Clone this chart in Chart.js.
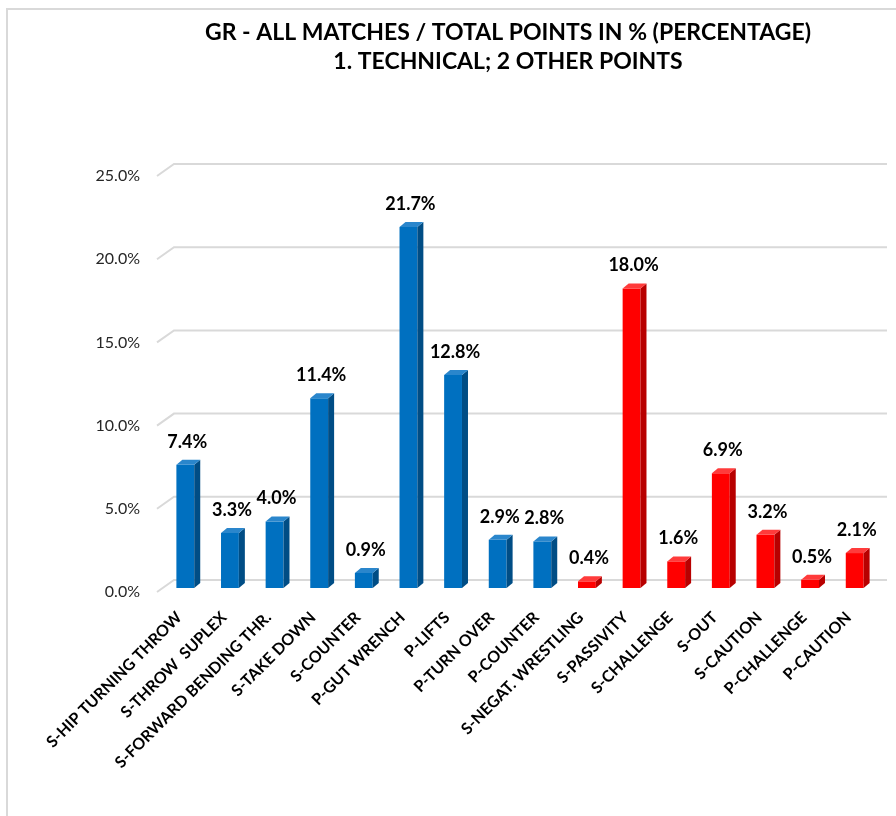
<!DOCTYPE html>
<html>
<head>
<meta charset="utf-8">
<script src="https://cdn.jsdelivr.net/npm/chart.js@4.4.0/dist/chart.umd.min.js"></script>
<style>
  body { margin: 0; background: #fff; }
  #frame { position: absolute; left: 6px; top: 8px; width: 1000px; height: 1000px; border: 2px solid #d9d9d9; }
  #wrap { position: absolute; left: 0; top: 0; width: 896px; height: 816px; }
</style>
</head>
<body>
<div id="frame"></div>
<div id="wrap"><canvas id="pointsChart" width="896" height="816"></canvas></div>
<script>
const titleLines = ['GR - ALL MATCHES / TOTAL POINTS IN % (PERCENTAGE)', '1. TECHNICAL; 2 OTHER POINTS'];

const categories = [
  'S-HIP TURNING THROW', 'S-THROW  SUPLEX', 'S-FORWARD BENDING THR.', 'S-TAKE DOWN',
  'S-COUNTER', 'P-GUT WRENCH', 'P-LIFTS', 'P-TURN OVER', 'P-COUNTER',
  'S-NEGAT. WRESTLING', 'S-PASSIVITY', 'S-CHALLENGE', 'S-OUT', 'S-CAUTION',
  'P-CHALLENGE', 'P-CAUTION'
];
const percentValues = [7.4, 3.3, 4.0, 11.4, 0.9, 21.7, 12.8, 2.9, 2.8, 0.4, 18.0, 1.6, 6.9, 3.2, 0.5, 2.1];
// 1 = technical points (blue), 2 = other points (red)
const pointGroup = [1, 1, 1, 1, 1, 1, 1, 1, 1, 2, 2, 2, 2, 2, 2, 2];
const yTicks = [0, 5, 10, 15, 20, 25];

const face = {
  1: { front: '#0070c0', side: '#004d85', top: '#2a86cc' },
  2: { front: '#ff0000', side: '#b80000', top: '#ff3b3b' }
};

const DX = 6, DY = 5; // bar depth

const titlePlugin = {
  id: 'titleText',
  afterDraw(chart) {
    const c = chart.ctx;
    c.save();
    c.fillStyle = '#000';
    c.font = 'bold 23px Lato';
    c.textAlign = 'center';
    c.textBaseline = 'middle';
    c.fillText(titleLines[0], 508, 33);
    c.fillText(titleLines[1], 508, 62);
    c.restore();
  }
};

const gridPlugin = {
  id: 'grid3d',
  beforeDatasetsDraw(chart) {
    const c = chart.ctx;
    const y = chart.scales.y;
    const left = chart.chartArea.left;
    c.save();
    c.strokeStyle = '#d9d9d9';
    c.lineWidth = 2;
    yTicks.forEach(v => {
      const py = y.getPixelForValue(v);
      c.beginPath();
      c.moveTo(left - 6, py + 4);
      c.lineTo(left + 11, py - 8);
      c.lineTo(887, py - 8);
      c.stroke();
    });
    c.restore();
  }
};

const barPlugin = {
  id: 'bars3d',
  afterDatasetsDraw(chart) {
    const c = chart.ctx;
    const meta = chart.getDatasetMeta(0);
    c.save();
    meta.data.forEach((bar, i) => {
      const p = bar.getProps(['x', 'y', 'base', 'width'], true);
      const l = p.x - p.width / 2, r = p.x + p.width / 2;
      const col = face[pointGroup[i]];
      c.fillStyle = col.side;
      c.beginPath();
      c.moveTo(r, p.y); c.lineTo(r + DX, p.y - DY); c.lineTo(r + DX, p.base - DY); c.lineTo(r, p.base);
      c.closePath(); c.fill();
      c.fillStyle = col.top;
      c.beginPath();
      c.moveTo(l, p.y); c.lineTo(l + DX, p.y - DY); c.lineTo(r + DX, p.y - DY); c.lineTo(r, p.y);
      c.closePath(); c.fill();
      c.fillStyle = '#000';
      c.font = 'bold 18px Lato';
      c.textAlign = 'center';
      c.textBaseline = 'alphabetic';
      c.fillText(percentValues[i].toFixed(1) + '%', p.x + 2, p.y - 17);
    });
    c.restore();
  }
};

new Chart(document.getElementById('pointsChart'), {
  type: 'bar',
  data: {
    labels: categories,
    datasets: [{
      data: percentValues,
      backgroundColor: pointGroup.map(g => face[g].front),
      categoryPercentage: 1,
      barPercentage: 0.4
    }]
  },
  options: {
    responsive: false,
    animation: false,
    layout: { padding: { top: 172, right: 19, left: 0, bottom: 0 } },
    plugins: { legend: { display: false }, tooltip: { enabled: false } },
    scales: {
      x: {
        grid: { display: false, drawTicks: false },
        border: { display: false },
        ticks: {
          minRotation: 45, maxRotation: 45, autoSkip: false, padding: 20, labelOffset: -6,
          color: '#000', font: { family: 'Lato', size: 16, weight: 'bold' }
        },
        afterFit(scale) { scale.height = 228; }
      },
      y: {
        min: 0, max: 25,
        afterBuildTicks(scale) { scale.ticks = yTicks.map(v => ({ value: v })); },
        grid: { display: false, drawTicks: false },
        border: { display: false },
        ticks: {
          padding: 23, labelOffset: 4, color: '#262626',
          font: { family: 'Lato', size: 16 },
          callback: v => v.toFixed(1) + '%'
        },
        afterFit(scale) { scale.width = 163; }
      }
    }
  },
  plugins: [titlePlugin, gridPlugin, barPlugin]
});
</script>
</body>
</html>
